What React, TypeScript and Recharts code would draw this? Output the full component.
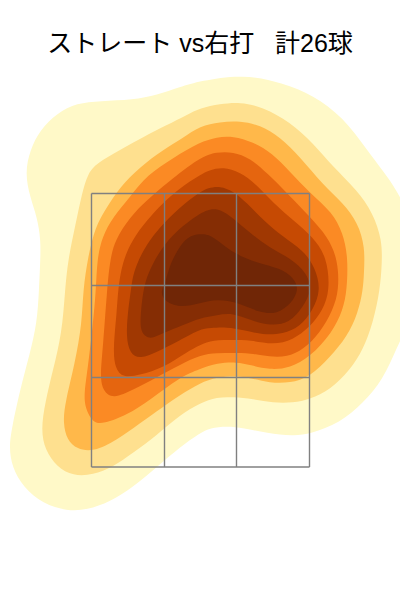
import React from 'react';
import { ScatterChart, Scatter, XAxis, YAxis, Curve } from 'recharts';

const title = 'ストレート vs右打   計26球';

// contour outlines, one list per density level (outer to inner), in plot units
const level1 = [[200,81],[243,74],[283,83],[313,95],[343,117],[367,150],[390,180],[400,197],[410,215],[418,250],[418,290],[408,325],[397,347],[383,380],[363,403],[340,423],[310,434],[293,436],[267,433],[243,428],[227,426],[210,428],[200,433],[180,447],[157,467],[133,487],[110,502],[87,510],[67,511],[43,504],[23,487],[12,467],[9,447],[12,427],[20,390],[30,353],[37,323],[39,290],[40,267],[41,240],[37,217],[30,197],[25,173],[30,150],[40,130],[57,113],[77,103],[100,101],[133,100],[157,95],[180,87]];
const level2 = [[200,108],[220,104],[240,102],[263,107],[290,122],[313,143],[333,167],[357,190],[373,213],[382,240],[382,263],[380,290],[373,323],[363,350],[350,370],[330,390],[310,399],[293,403],[273,403],[253,399],[233,397],[217,397],[200,403],[180,415],[157,435],[133,453],[113,467],[93,475],[73,476],[57,467],[45,450],[41,430],[45,403],[53,370],[62,333],[65,290],[68,260],[75,227],[82,193],[88,173],[97,163],[120,150],[143,137],[167,125],[187,115]];
const level3 = [[200,126],[220,122],[240,121],[260,125],[280,137],[300,157],[323,185],[343,203],[358,223],[365,247],[364,273],[363,290],[358,313],[347,337],[330,357],[310,377],[290,383],[270,383],[250,378],[237,376],[217,377],[200,383],[180,395],[163,407],[140,423],[117,440],[93,452],[77,449],[67,440],[63,423],[65,403],[75,363],[82,323],[83,290],[88,257],[95,227],[107,207],[120,187],[140,167],[163,150],[183,138]];
const level4 = [[200,142],[217,137],[233,136],[253,142],[272,153],[290,172],[310,193],[332,212],[343,233],[348,257],[347,290],[343,310],[332,333],[310,357],[290,368],[270,370],[250,365],[237,362],[217,363],[200,369],[180,377],[150,400],[127,415],[103,424],[93,423],[85,408],[84,393],[88,367],[93,323],[96,290],[97,260],[102,237],[113,217],[130,197],[147,175],[173,158]];
const level5 = [[200,157],[217,152],[233,152],[250,158],[267,173],[287,193],[310,217],[328,237],[338,260],[339,290],[333,310],[320,333],[303,350],[287,357],[270,357],[250,353],[233,353],[217,353],[200,355],[180,365],[157,377],[133,390],[113,399],[103,391],[100,377],[103,347],[107,290],[110,260],[115,240],[130,217],[147,200],[167,183]];
const level6 = [[200,175],[210,170],[223,167],[240,172],[257,185],[273,203],[293,220],[313,237],[327,257],[330,290],[323,310],[310,327],[293,340],[273,345],[250,340],[233,340],[213,340],[200,345],[187,352],[163,368],[140,375],[123,378],[115,368],[113,350],[117,310],[118,290],[122,263],[132,240],[147,220],[163,203],[180,188]];
const level7 = [[200,192],[208,188],[220,186],[233,191],[247,203],[263,220],[283,237],[303,250],[315,267],[321,290],[313,310],[300,327],[283,334],[263,335],[243,330],[227,327],[210,328],[200,329],[177,342],[157,352],[140,359],[130,354],[126,337],[128,310],[131,290],[133,273],[143,250],[157,230],[180,207]];
const level8 = [[200,213],[210,209],[220,209],[233,218],[250,233],[270,248],[290,258],[307,273],[312,290],[303,307],[290,323],[270,326],[250,320],[233,313],[217,315],[200,318],[183,325],[163,333],[150,340],[141,333],[140,320],[143,290],[148,273],[160,250],[177,230]];
const level9 = [[200,234],[208,234],[220,242],[233,253],[257,263],[280,268],[294,278],[299,290],[291,304],[277,314],[260,313],[237,302],[217,299],[200,303],[180,308],[163,301],[161,290],[165,285],[168,270],[177,250],[188,236]];

const levels = [level1, level2, level3, level4, level5, level6, level7, level8, level9];
const levelColors = ['#fff9c8', '#fee08f', '#ffb84a', '#fb8a24', '#e5650f', '#c64a03', '#a03802', '#852d04', '#702606'];

// strike zone grid
const zoneX = [91.5, 164.5, 236.5, 309.5];
const zoneY = [193.5, 285.5, 377.5, 467];

const toPoints = (level: number[][]) => level.map(([x, y]) => ({ x, y }));

const contour = (color: string) => (props: any) => (
  <Curve points={props.points} type="basisClosed" fill={color} stroke="none" />
);

const zoneLines = [
  ...zoneX.map((x) => [[x, zoneY[0]], [x, zoneY[3]]]),
  ...zoneY.map((y) => [[zoneX[0], y], [zoneX[3], y]]),
];

export default function App() {
  return (
    <div style={{ position: 'absolute', left: 0, top: 0 }}>
      <ScatterChart width={400} height={600} margin={{ top: 0, right: 0, bottom: 0, left: 0 }}>
        <XAxis type="number" dataKey="x" domain={[0, 400]} allowDataOverflow hide />
        <YAxis type="number" dataKey="y" domain={[0, 600]} reversed allowDataOverflow hide />
        {levels.map((level, i) => (
          <Scatter
            key={i}
            data={toPoints(level)}
            line={contour(levelColors[i])}
            shape={() => null}
            isAnimationActive={false}
          />
        ))}
        {zoneLines.map((segment, i) => (
          <Scatter
            key={'zone' + i}
            data={toPoints(segment)}
            line={{ stroke: '#808080', strokeWidth: 1.4 }}
            shape={() => null}
            isAnimationActive={false}
          />
        ))}
        <text
          x={200}
          y={52}
          textAnchor="middle"
          fontSize={25}
          fontFamily="'Liberation Sans', 'Noto Sans CJK JP', sans-serif"
          fill="#000"
          style={{ whiteSpace: 'pre' }}
        >
          {title}
        </text>
      </ScatterChart>
    </div>
  );
}
